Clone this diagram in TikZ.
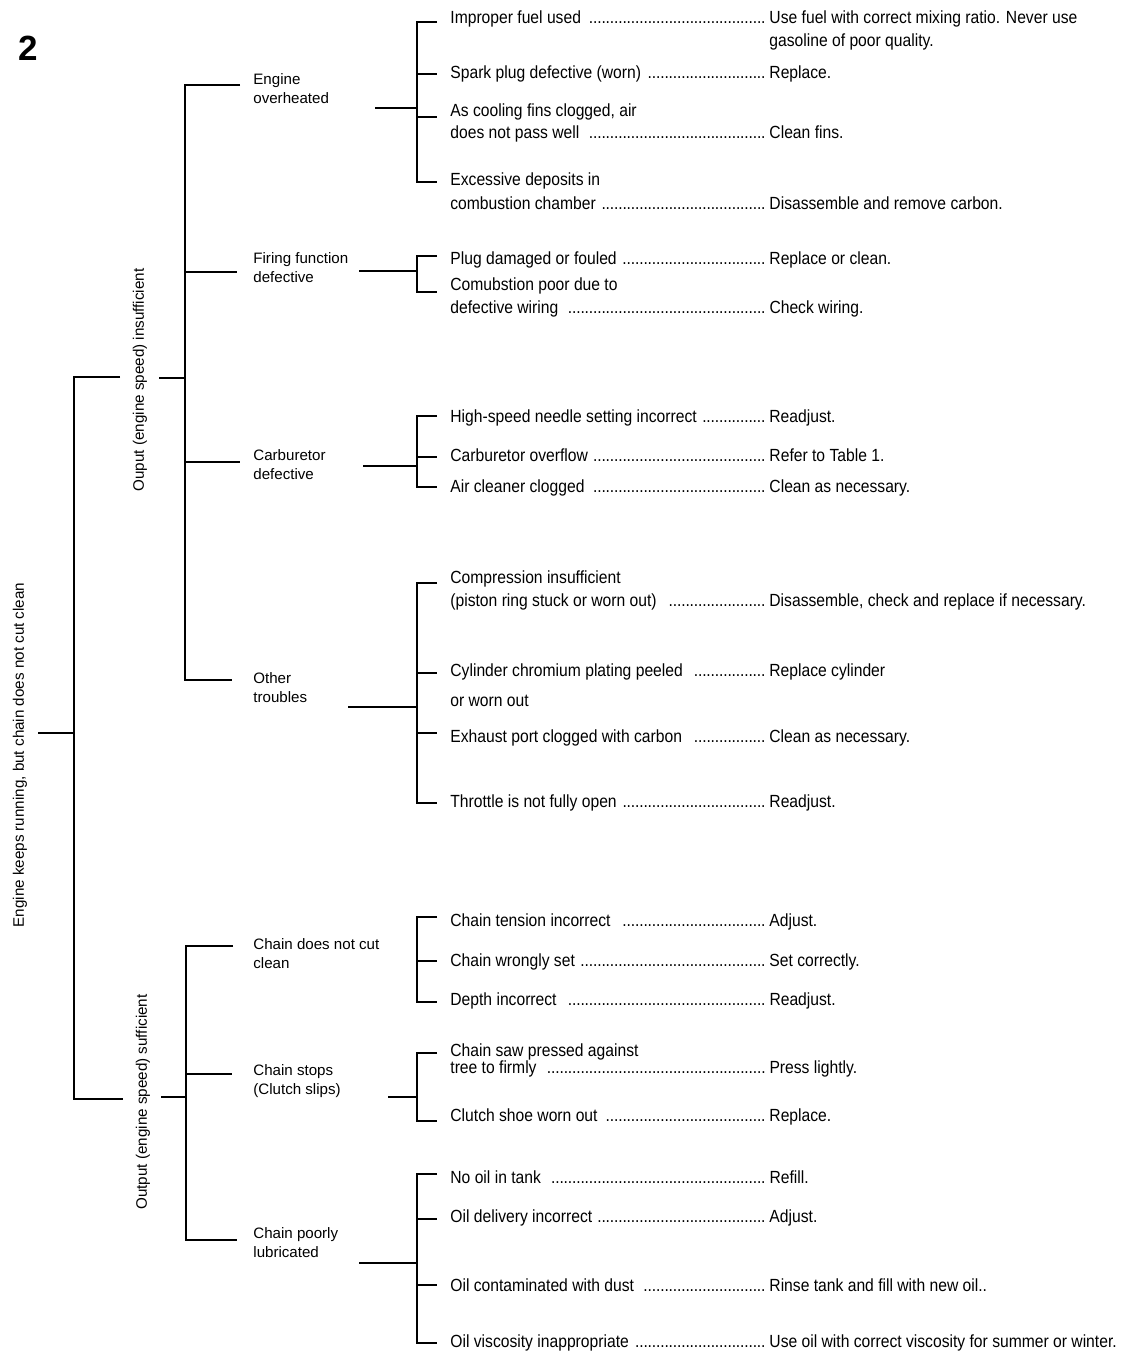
\documentclass[tikz,border=0pt]{standalone}
\usepackage{fontspec}
\setmainfont{Liberation Sans}
\newfontfamily\narrowfont[FakeStretch=0.89]{Liberation Sans}
\usetikzlibrary{positioning}
\tikzset{tree/.style = {line width = 1.3pt},
  cat/.style = {anchor = north west, align = left, inner sep = 0, font = \fontsize{7.55}{9.5}\selectfont},
  vlabel/.style = {rotate = 90, inner sep = 0, font = \fontsize{7.6}{9}\selectfont},
  cause/.style = {anchor = base west, inner sep = 0, font = \narrowfont\fontsize{8.8}{11.5}\selectfont}}
\newcommand{\leaderdots}{\leaders\hbox to 2.1pt{\hss.\hss}\hfill}
\newcommand{\fillto}[1]{\hbox to 158pt{#1\leaderdots}\kern1.5pt}

\begin{document}
\begin{tikzpicture}[x = 0.5pt, y = -0.5pt]
  \useasboundingbox (0, 0) rectangle (1126, 1353);
  \node [inner sep = 0, font = \bfseries\fontsize{17.5}{17.5}\selectfont] (num) at (28, 48) {2};

  % main branches
  \node [vlabel] (root) at (20, 755) {Engine keeps running, but chain does not cut clean};
  \node [vlabel] (insuff) at (140, 380) {Ouput (engine speed) insufficient};
  \node [vlabel] (suff) at (143, 1102) {Output (engine speed) sufficient};
  \coordinate (rootE) at (38, 733);
  \coordinate (rootJ) at (74, 733);
  \draw [tree] (rootE) -- (rootJ);
  \draw [tree] (120, 377) -| (74, 1099) -- (123, 1099);

  % output insufficient
  \node [cat] (overheat) at (253, 73) {Engine\\overheated};
  \node [cat] (firing) at (253, 252) {Firing function\\defective};
  \node [cat] (carb) at (253, 449) {Carburetor\\defective};
  \node [cat] (other) at (253, 672) {Other\\troubles};
  \draw [tree] (159, 378) -- (185, 378);
  \draw [tree] (240, 85) -| (185, 680) -- (232, 680);
  \draw [tree] (185, 272) -- (237, 272);
  \draw [tree] (185, 462) -- (240, 462);

  % output sufficient
  \node [cat] (notcut) at (253, 938) {Chain does not cut\\clean};
  \node [cat] (stops) at (253, 1064) {Chain stops\\(Clutch slips)};
  \node [cat] (lube) at (253, 1227) {Chain poorly\\lubricated};
  \draw [tree] (161, 1097) -- (186, 1097);
  \draw [tree] (233, 946) -| (186, 1240) -- (237, 1240);
  \draw [tree] (186, 1074) -- (232, 1074);

  % brackets
  \draw [tree] (375, 108) -- (417, 108);
  \draw [tree] (437, 22) -| (417, 182) -- (437, 182);
  \foreach \y in {74, 117} \draw [tree] (417, \y) -- ++(20, 0);

  \draw [tree] (359, 271) -- (417, 271);
  \draw [tree] (437, 256) -| (417, 292) -- (437, 292);

  \draw [tree] (363, 466) -- (417, 466);
  \draw [tree] (437, 416) -| (417, 487) -- (437, 487);
  \draw [tree] (417, 457) -- ++(20, 0);

  \draw [tree] (348, 707) -- (417, 707);
  \draw [tree] (437, 583) -| (417, 803) -- (437, 803);
  \foreach \y in {673, 733} \draw [tree] (417, \y) -- ++(20, 0);

  \draw [tree] (437, 917) -| (417, 1002) -- (437, 1002);
  \draw [tree] (417, 961) -- ++(20, 0);

  \draw [tree] (388, 1097) -- (417, 1097);
  \draw [tree] (437, 1053) -| (417, 1121) -- (437, 1121);

  \draw [tree] (359, 1263) -- (417, 1263);
  \draw [tree] (437, 1174) -| (417, 1343) -- (437, 1343);
  \foreach \y in {1219, 1285} \draw [tree] (417, \y) -- ++(20, 0);

  % causes and remedies
  \node [cause] (fuel) at (450, 24) {\fillto{Improper fuel used }Use fuel with correct mixing ratio. Never use};
  \node [cause] (fuelb) at (769, 47) {gasoline of poor quality.};
  \node [cause] (plug) at (450, 79) {\fillto{Spark plug defective (worn) }Replace.};
  \node [cause] (fins) at (450, 117) {As cooling fins clogged, air};
  \node [cause] (finsb) at (450, 139) {\fillto{does not pass well\ \ }Clean fins.};
  \node [cause] (deposit) at (450, 186) {Excessive deposits in};
  \node [cause] (depositb) at (450, 210) {\fillto{combustion chamber }Disassemble and remove carbon.};

  \node [cause] (fouled) at (450, 265) {\fillto{Plug damaged or fouled }Replace or clean.};
  \node [cause] (wiring) at (450, 291) {Comubstion poor due to};
  \node [cause] (wiringb) at (450, 314) {\fillto{defective wiring\ \ }Check wiring.};

  \node [cause] (needle) at (450, 422) {\fillto{High-speed needle setting incorrect }Readjust.};
  \node [cause] (overflow) at (450, 461) {\fillto{Carburetor overflow }Refer to Table 1.};
  \node [cause] (cleaner) at (450, 492) {\fillto{Air cleaner clogged\ \ }Clean as necessary.};

  \node [cause] (compr) at (450, 583) {Compression insufficient};
  \node [cause] (comprb) at (450, 606) {\fillto{(piston ring stuck or worn out)\ \ }Disassemble, check and replace if necessary.};
  \node [cause] (chrome) at (450, 676) {\fillto{Cylinder chromium plating peeled\ \ }Replace cylinder};
  \node [cause] (chromeb) at (450, 706) {or worn out};
  \node [cause] (exhaust) at (450, 742) {\fillto{Exhaust port clogged with carbon\ \ }Clean as necessary.};
  \node [cause] (throttle) at (450, 807) {\fillto{Throttle is not fully open }Readjust.};

  \node [cause] (tension) at (450, 926) {\fillto{Chain tension incorrect\ \ }Adjust.};
  \node [cause] (wrongset) at (450, 966) {\fillto{Chain wrongly set }Set correctly.};
  \node [cause] (depth) at (450, 1005) {\fillto{Depth incorrect\ \ }Readjust.};

  \node [cause] (pressed) at (450, 1056) {Chain saw pressed against};
  \node [cause] (pressedb) at (450, 1073) {\fillto{tree to firmly\ \ }Press lightly.};
  \node [cause] (shoe) at (450, 1121) {\fillto{Clutch shoe worn out }Replace.};

  \node [cause] (nooil) at (450, 1183) {\fillto{No oil in tank\ \ }Refill.};
  \node [cause] (delivery) at (450, 1222) {\fillto{Oil delivery incorrect }Adjust.};
  \node [cause] (dust) at (450, 1291) {\fillto{Oil contaminated with dust\ \ }Rinse tank and fill with new oil..};
  \node [cause] (viscosity) at (450, 1347) {\fillto{Oil viscosity inappropriate }Use oil with correct viscosity for summer or winter.};
\end{tikzpicture}
\end{document}
